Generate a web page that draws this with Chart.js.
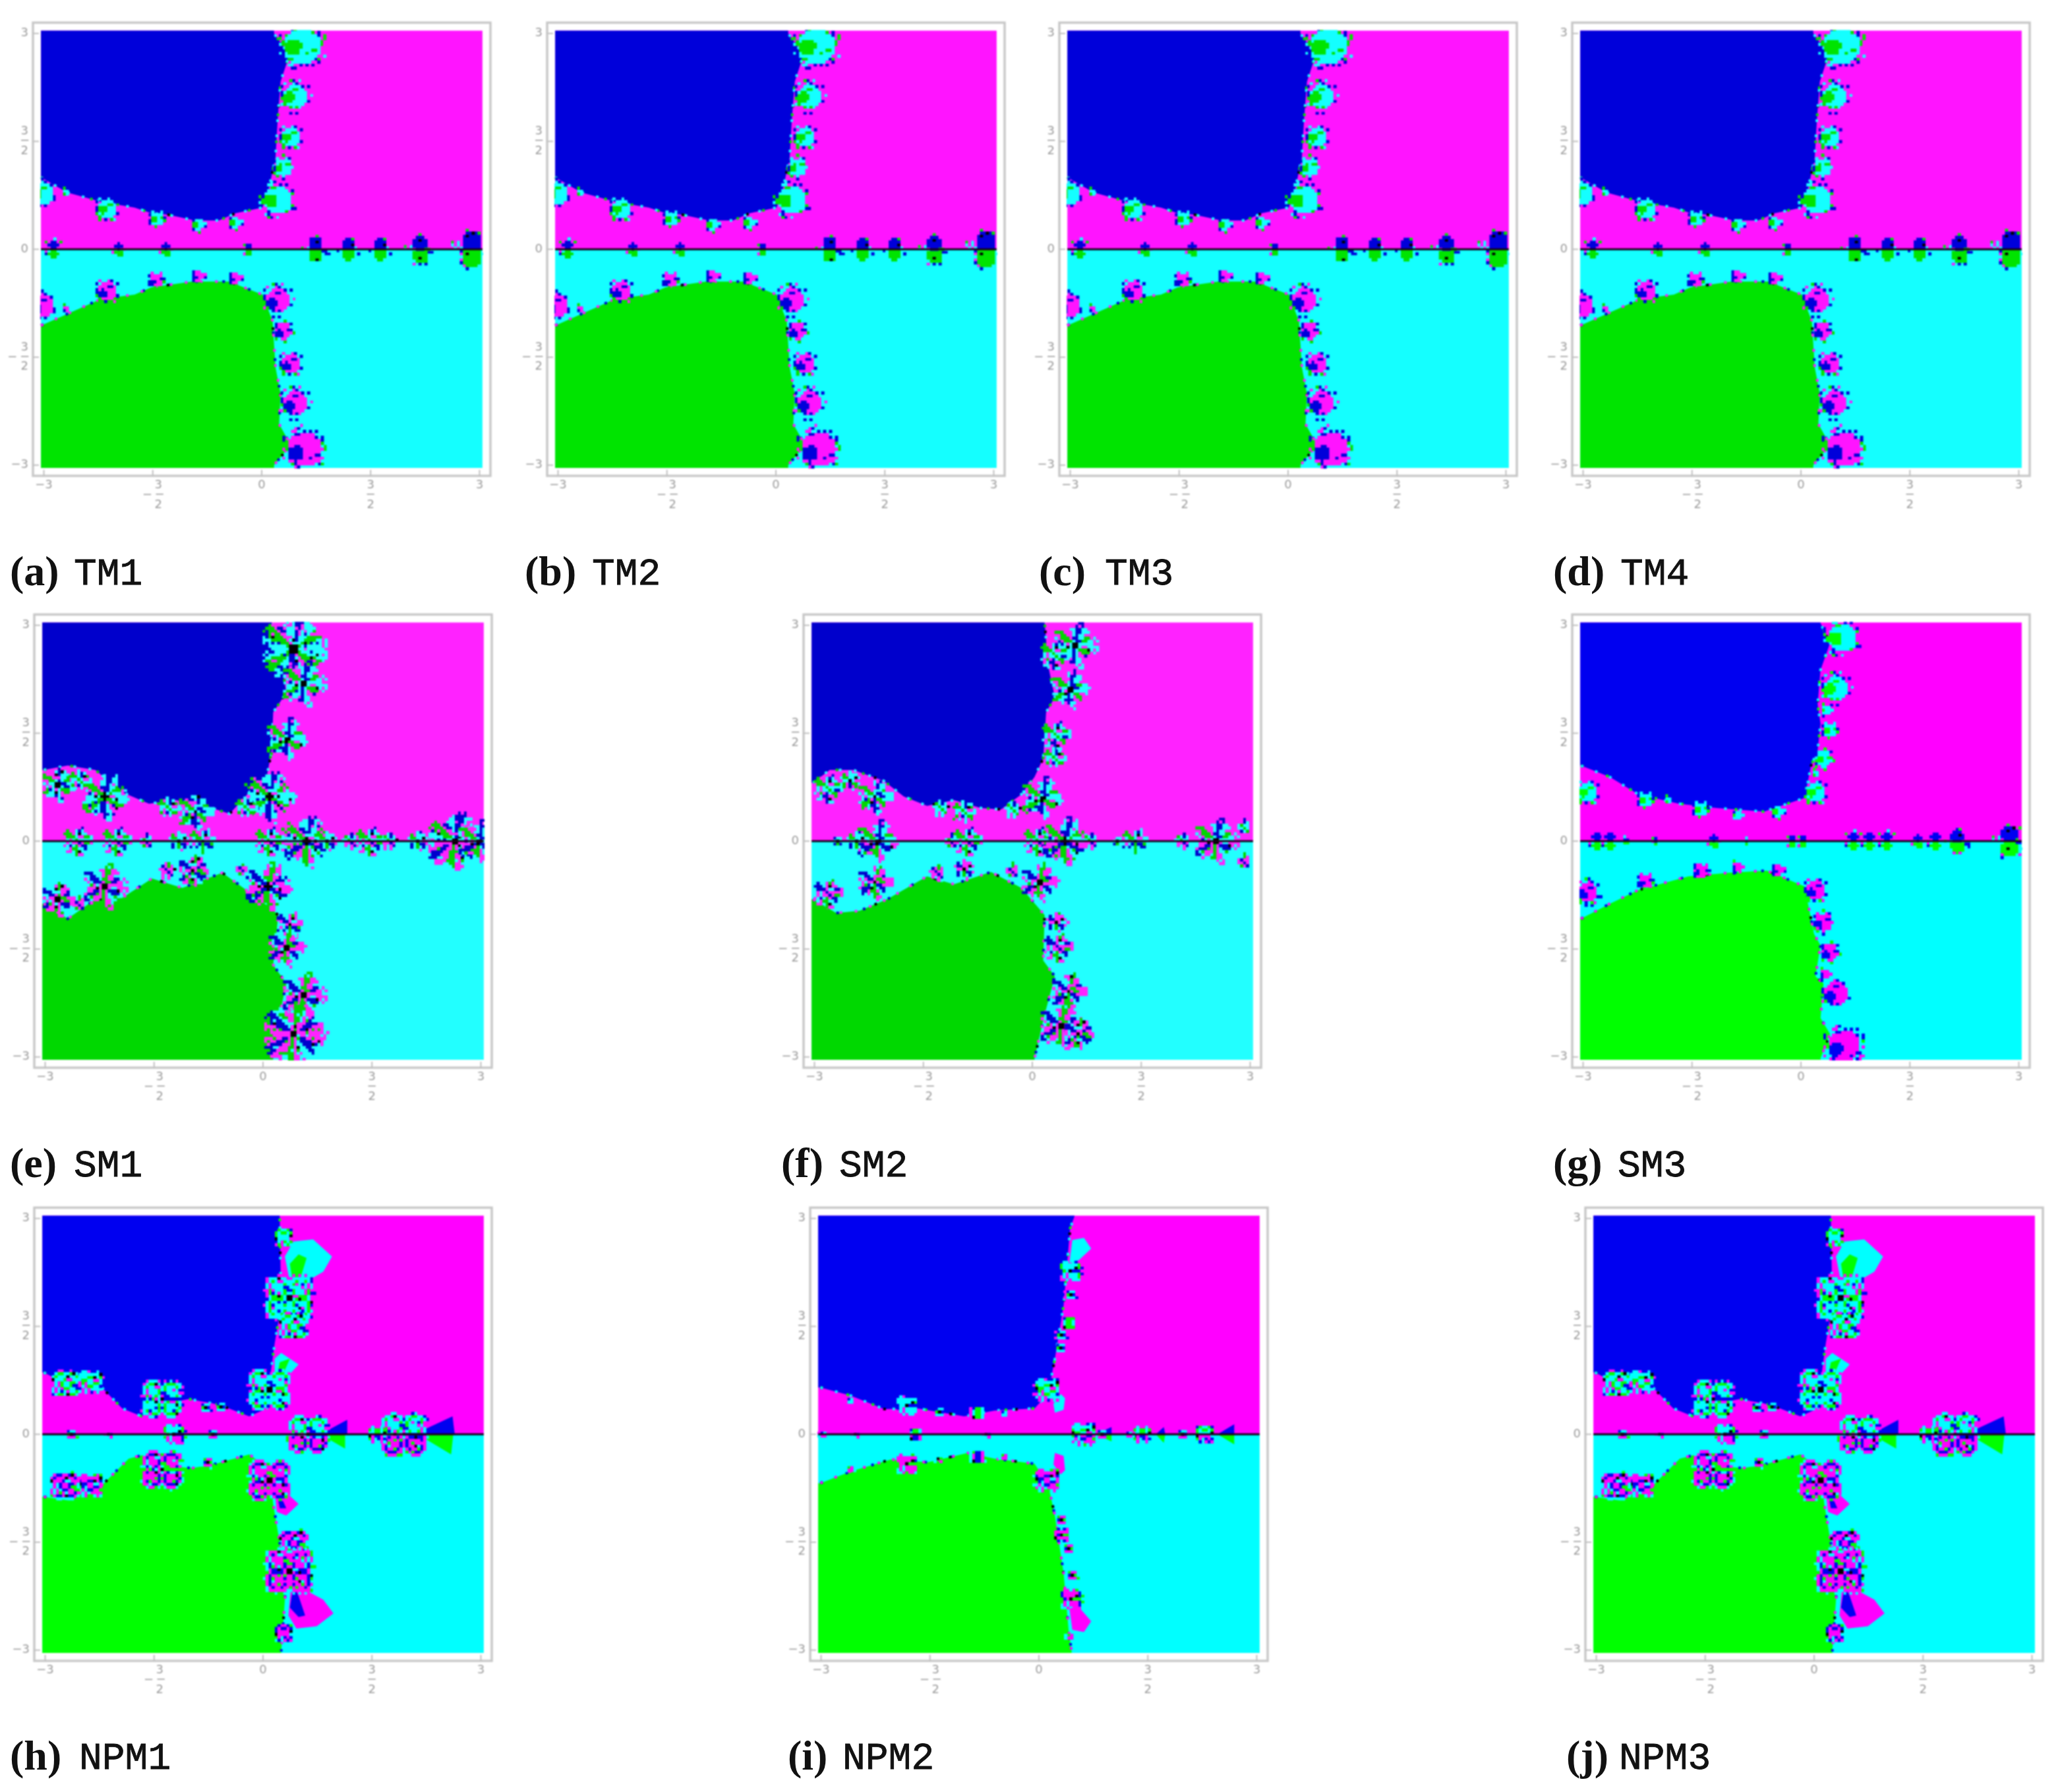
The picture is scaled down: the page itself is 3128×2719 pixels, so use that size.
<!DOCTYPE html>
<html>
<head>
<meta charset="utf-8">
<title>Basins of attraction</title>
<script src="https://cdn.jsdelivr.net/npm/chart.js@4"></script>
<style>
  html, body { margin: 0; padding: 0; background: #fff; }
  #page { position: relative; width: 3128px; height: 2719px; overflow: hidden; }
  canvas { position: absolute; filter: blur(0.8px); }
  .cap { position: absolute; white-space: pre; color: #111; filter: blur(0.6px); line-height: 1; }
  .cap-tag { font: bold 64px "Liberation Serif", serif; }
  .cap-name { font: 58px "Liberation Mono", monospace; -webkit-text-stroke: 0.8px #111; }
</style>
</head>
<body>
<div id="page"></div>
<script>
// Axis ticks, same on every panel
const tickValues = [-3, -1.5, 0, 1.5, 3];
const tickLabels = ['\u22123', ['   3', '\u2212 \u2500', '   2'], '0', ['3', '\u2500', '2'], '3'];

// Captions
const captionTags = ['(a)', '(b)', '(c)', '(d)', '(e)', '(f)', '(g)', '(h)', '(i)', '(j)'];
const captionNames = ['TM1', 'TM2', 'TM3', 'TM4', 'SM1', 'SM2', 'SM3', 'NPM1', 'NPM2', 'NPM3'];

// Basin boundaries, [x, y]
const tmBlue = [[-3.04,1.0],[-2.68,.79],[-2.21,.66],[-1.75,.58],[-1.52,.5],[-1.29,.48],[-.92,.4],[-.59,.4],[-.36,.5],[.01,.58],[.1,.85],[.19,1.27],[.22,1.8],[.26,2.33],[.38,2.7],[.17,3.0]];
const tmGreen = [[-3.04,-1.06],[-2.68,-.9],[-2.21,-.69],[-1.75,-.63],[-1.52,-.53],[-.96,-.45],[-.45,-.45],[.01,-.63],[.15,-1.0],[.19,-1.64],[.26,-2.01],[.24,-2.43],[.4,-2.72],[.17,-3.0]];
const sm1Blue = [[-3.02,.99],[-2.69,1.05],[-2.31,.99],[-1.94,.68],[-1.57,.52],[-1.2,.57],[-.83,.5],[-.46,.38],[-.19,.68],[.05,.89],[.12,1.26],[.14,1.79],[.32,2.06],[.23,2.66],[.12,3.02]];
const sm1Green = [[-3.02,-.87],[-2.69,-1.08],[-2.31,-.81],[-1.94,-.79],[-1.53,-.52],[-1.11,-.65],[-.56,-.44],[-.19,-.71],[.09,-.92],[.21,-1.03],[.14,-1.72],[.32,-1.98],[.23,-2.41],[.14,-3.02]];
const sm2Blue = [[-3.02,.81],[-2.79,.99],[-2.47,.99],[-2.05,.84],[-1.77,.62],[-1.45,.49],[-1.08,.57],[-.71,.46],[-.43,.44],[-.15,.65],[.03,.89],[.15,1.15],[.19,1.79],[.31,2.0],[.22,2.43],[.17,3.03]];
const sm2Green = [[-3.02,-.81],[-2.7,-1],[-2.38,-.97],[-2,-.81],[-1.45,-.49],[-1.08,-.6],[-.57,-.43],[-.15,-.65],[.17,-1.03],[.15,-1.66],[.31,-1.88],[.17,-2.41],[.03,-3.02]];
const sm3Blue = [[-3.03,1.05],[-2.63,.89],[-2.24,.65],[-1.68,.52],[-1.16,.46],[-.51,.41],[.05,.6],[.14,1.05],[.23,1.26],[.27,1.63],[.23,1.9],[.27,2.38],[.4,2.75],[.27,3.03]];
const sm3Green = [[-3.03,-1.08],[-2.63,-.87],[-2.24,-.68],[-1.55,-.49],[-.99,-.44],[-.47,-.41],[.05,-.63],[.18,-1.29],[.27,-1.45],[.2,-1.88],[.31,-1.98],[.27,-2.46],[.4,-2.68],[.27,-3.02]];
const npm1Blue = [[-3.02,.86],[-2.87,.78],[-2.22,.65],[-1.94,.36],[-1.67,.25],[-1.44,.41],[-1.02,.49],[-.6,.41],[-.19,.25],[.05,.36],[.09,.73],[.16,1.26],[.25,1.79],[.23,3.03]];
const npm1Green = [[-3.02,-.87],[-2.69,-.92],[-2.22,-.71],[-1.85,-.34],[-1.62,-.28],[-1.39,-.44],[-.97,-.47],[-.65,-.41],[-.19,-.28],[.09,-.49],[.14,-.97],[.23,-1.51],[.32,-2.04],[.25,-3.02]];
const npm2Blue = [[-3.01,.65],[-2.6,.54],[-2.13,.35],[-1.67,.36],[-1.03,.25],[-.61,.33],[-.06,.36],[.13,.57],[.22,1.05],[.34,1.79],[.43,2.86],[.49,3.03]];
const npm2Green = [[-3.01,-.68],[-2.6,-.52],[-2.04,-.35],[-1.53,-.39],[-.98,-.26],[-.61,-.34],[-.06,-.41],[.13,-.71],[.22,-1.13],[.34,-1.93],[.41,-2.73],[.45,-3.02]];

// Blobs on the boundary, [x, y, radius]
const tmUp = [[.56,2.83,.25],[.46,2.12,.17],[.4,1.56,.13],[.3,1.14,.12],[.22,.69,.2],[-3.02,.77,.15],[-2.13,.56,.13],[-1.44,.42,.1],[-.88,.34,.085],[-.37,.37,.085],[-2.7,.79,.05]];
const tmLow = [[.59,-2.78,.24],[.46,-2.14,.17],[.4,-1.59,.13],[.3,-1.14,.11],[.22,-.71,.17],[-3.02,-.79,.15],[-2.13,-.58,.13],[-1.45,-.43,.1],[-.88,-.37,.08],[-.37,-.4,.08],[-2.7,-.83,.05]];
const tmAxis = [[-2.87,0,.09],[-1.97,0,.07],[-1.32,0,.07],[-.18,0,.06],[.74,0,.13],[1.19,0,.11],[1.63,0,.11],[2.18,0,.14],[2.89,0,.18]];
const sm3Up = [[.57,2.83,.2],[.48,2.12,.17],[.35,1.82,.07],[.4,1.54,.1],[.31,1.14,.11],[.2,.68,.13],[.2,.94,.05],[-2.94,.68,.13],[-2.14,.57,.1],[-1.38,.44,.1],[-.88,.36,.06],[-.32,.41,.08],[-1.83,.57,.05]];
const sm3Low = [[-2.94,-.71,.14],[-2.14,-.56,.1],[-1.38,-.41,.09],[-.88,-.36,.07],[-.32,-.4,.08],[.2,-.68,.13],[.31,-1.13,.12],[.4,-1.55,.11],[.33,-1.85,.07],[.48,-2.12,.16],[.59,-2.84,.22]];
const sm3Axis = [[-2.81,0,.08],[-2.63,0,.08],[-2.41,0,.04],[-2,0,.05],[-1.2,0,.07],[-.75,0,.03],[-.12,0,.06],[.03,0,.06],[.72,0,.09],[.94,0,.08],[1.18,0,.09],[1.61,0,.07],[1.85,0,.08],[2.15,0,.12],[2.87,0,.15]];

// Flowers, [x, y, radius]
const sm1Up = [[.42,2.67,.46],[.56,2.19,.3],[.32,1.42,.28],[.09,.62,.35],[-2.18,.62,.32],[-2.83,.78,.23],[-2.52,.84,.16],[-.93,.41,.25],[-1.3,.46,.16],[-.23,.46,.16]];
const sm1Low = [[-2.18,-.63,.3],[-2.83,-.81,.23],[-2.55,-.87,.1],[-.97,-.41,.22],[-1.32,-.41,.13],[.07,-.63,.32],[-.3,-.39,.09],[.32,-1.48,.26],[.37,-1.16,.18],[.56,-2.14,.3],[.42,-2.68,.44]];
const sm1Axis = [[-2.01,0,.2],[-2.55,0,.2],[-.83,0,.18],[-1.16,0,.14],[.6,0,.35],[.88,0,.14],[.09,0,.2],[1.48,0,.2],[1.74,0,.13],[1.2,0,.12],[2.64,0,.4],[2.13,0,.15],[2.96,0,.28],[-1.62,0,.1]];
const sm2Up = [[.59,2.72,.3],[.31,2.59,.2],[.52,2.11,.26],[.33,1.47,.2],[.31,1.15,.16],[.13,.6,.28],[-.27,.44,.13],[-2.17,.62,.24],[-2.81,.73,.2],[-2.51,.84,.14],[-.94,.41,.17],[-1.26,.46,.13],[2.9,.2,.1]];
const sm2Low = [[-2.17,-.57,.24],[-2.81,-.73,.2],[-1.31,-.44,.12],[-.94,-.39,.14],[-.29,-.41,.1],[.1,-.57,.26],[.33,-1.13,.15],[.36,-1.48,.2],[.5,-2.09,.25],[.4,-2.57,.3],[.63,-2.68,.22],[2.9,-.28,.1]];
const sm2Axis = [[-2.14,0,.28],[-2.42,0,.15],[-2.68,0,.08],[-.89,0,.2],[-1.13,0,.1],[.08,0,.2],[.45,0,.32],[.8,0,.12],[1.42,0,.18],[1.17,0,.07],[2.53,0,.3],[2.07,0,.12]];
const npm1Up = [[.36,1.9,.33],[.28,2.74,.13],[.42,1.5,.19],[.09,.62,.3],[-1.39,.49,.28],[-2.38,.73,.17],[-2.71,.7,.19],[-.79,.37,.08],[-.58,.38,.07]];
const npm1Low = [[-1.39,-.49,.28],[-2.38,-.71,.17],[-2.73,-.71,.19],[-.76,-.39,.08],[.09,-.64,.3],[.42,-1.51,.19],[.36,-1.9,.33],[.28,-2.76,.13]];
const npm1Axis = [[.62,0,.28],[1.94,0,.32],[1.57,0,.12],[-1.23,0,.15],[-2.64,0,.08],[-.69,0,.07],[-2.13,0,.05]];
const npm2Up = [[.43,2.27,.15],[.44,1.94,.08],[.41,1.55,.09],[.31,1.38,.08],[.3,1.2,.07],[.11,.62,.17],[-1.82,.4,.14],[-2.6,.47,.06],[-.84,.3,.1],[-.48,.29,.06],[-1.37,.31,.07]];
const npm2Low = [[-1.82,-.41,.14],[-.84,-.31,.1],[-2.6,-.48,.06],[-.48,-.31,.06],[-1.39,-.34,.05],[.11,-.64,.17],[.31,-1.4,.11],[.31,-1.19,.07],[.41,-1.59,.07],[.46,-1.96,.08],[.44,-2.29,.15],[.43,-2.81,.06]];
const npm2Axis = [[.61,0,.17],[-1.7,0,.1],[-2.53,0,.05],[-.73,0,.05],[-2.97,0,.06],[1.42,0,.12],[1.24,0,.06],[2.28,0,.13],[.87,0,.07],[1.98,0,.07]];

// Teardrop petals, outer shapes then inner ones, [x, y]
const npm1TearCyan = [[[.39,2.02],[.3,2.47],[.42,2.68],[.69,2.71],[.95,2.47],[.83,2.26],[.56,2.1]],[[.16,.73],[.16,1.05],[.25,1.13],[.49,.97],[.32,.78]]];
const npm1TearMagenta = [[[.39,-2.06],[.35,-2.52],[.46,-2.7],[.74,-2.67],[.97,-2.49],[.83,-2.3]],[[.16,-.76],[.19,-1.08],[.32,-1.13],[.49,-.97],[.32,-.81]]];
const npm1TearGreen = [[[.42,2.05],[.37,2.37],[.49,2.5],[.6,2.45],[.51,2.15]],[[.19,.78],[.23,1],[.37,1.05],[.28,.84]],[[.79,0],[1.13,-.2],[1.13,0]],[[2.13,0],[2.59,-.28],[2.62,0]]];
const npm1TearBlue = [[[.42,-2.09],[.37,-2.41],[.49,-2.54],[.58,-2.52],[.49,-2.25]],[[.19,-.81],[.23,-1.03],[.32,-1.03],[.25,-.87]],[[.79,0],[1.16,.2],[1.16,0]],[[2.08,0],[2.61,.25],[2.64,0]]];
const npm2TearCyan = [[[.42,2.38],[.46,2.7],[.62,2.73],[.72,2.58],[.55,2.42]],[[.2,.42],[.22,.3],[.34,.34],[.36,.5],[.3,.56]]];
const npm2TearMagenta = [[[.42,-2.42],[.46,-2.72],[.62,-2.75],[.72,-2.6],[.55,-2.4]],[[.2,-.42],[.22,-.26],[.34,-.3],[.36,-.5],[.3,-.56]]];
const npm2TearGreen = [[[.78,0],[1.0,-.1],[1.0,0]],[[1.61,0],[1.72,-.12],[1.74,0]],[[2.46,0],[2.69,-.14],[2.69,0]]];
const npm2TearBlue = [[[.78,0],[1.0,.1],[1.0,0]],[[1.61,0],[1.72,.1],[1.74,0]],[[2.46,0],[2.69,.14],[2.69,0]]];

const plotSpanX = 3.04;
const plotSpanY = 3.04;
const axisSpan = 3.15;

const palettes = {
  tm: { blue: '#0000da', magenta: '#ff14ff', cyan: '#14ffff', green: '#00e400' },
  sm: { blue: '#0000cc', magenta: '#ff22ff', cyan: '#22ffff', green: '#00d800' },
  pure: { blue: '#0000f0', magenta: '#ff00ff', cyan: '#00ffff', green: '#00ff00' },
};

const tmSet = { pal: 'tm', blue: tmBlue, green: tmGreen, up: tmUp, low: tmLow, axis: tmAxis, shape: 'disc' };
const npm1Set = { pal: 'pure', blue: npm1Blue, green: npm1Green, up: npm1Up, low: npm1Low, axis: npm1Axis, shape: 'ring',
  tears: { cyan: npm1TearCyan, magenta: npm1TearMagenta, green: npm1TearGreen, blue: npm1TearBlue } };

// left / top of each frame, in page pixels
const panels = [
  { ...tmSet, left: 50, top: 30 },
  { ...tmSet, left: 830, top: 30 },
  { ...tmSet, left: 1607, top: 30 },
  { ...tmSet, left: 2385, top: 30 },
  { pal: 'sm', blue: sm1Blue, green: sm1Green, up: sm1Up, low: sm1Low, axis: sm1Axis, shape: 'star', left: 52, top: 928 },
  { pal: 'sm', blue: sm2Blue, green: sm2Green, up: sm2Up, low: sm2Low, axis: sm2Axis, shape: 'star', left: 1219, top: 928 },
  { pal: 'pure', blue: sm3Blue, green: sm3Green, up: sm3Up, low: sm3Low, axis: sm3Axis, shape: 'disc', left: 2385, top: 928 },
  { ...npm1Set, left: 52, top: 1828 },
  { pal: 'pure', blue: npm2Blue, green: npm2Green, up: npm2Up, low: npm2Low, axis: npm2Axis, shape: 'ring', left: 1229, top: 1828,
    tears: { cyan: npm2TearCyan, magenta: npm2TearMagenta, green: npm2TearGreen, blue: npm2TearBlue } },
  { ...npm1Set, left: 2405, top: 1828 },
];

// Caption placement, page pixels: tag x, name x, baseline row
const captionLayout = [
  [15, 112, 0], [796, 898, 0], [1576, 1676, 0], [2356, 2458, 0],
  [15, 112, 1], [1185, 1273, 1], [2356, 2454, 1],
  [15, 120, 2], [1195, 1278, 2], [2376, 2456, 2],
];
const captionTops = [830, 1728, 2627];

const FRAME_W = 694;
const FRAME_H = 692;
const PAD_LEFT = 50;
const PAD_TOP = 10;
const PAD_RIGHT = 10;
const PAD_BOTTOM = 90;
const PX_PER_UNIT = 110;
const CELL = 4.5;

/**
 * Colour of one cell of a blob glyph, or null where it is see-through.
 * nx, ny are relative to the blob radius, y up.
 */
function glyphCell(shape, side, nx, ny, i, j, pal) {
  const d = Math.hypot(nx, ny);
  const a = Math.atan2(ny, nx);
  const grain = (i * i * 3 + j * j * 5 + i * j * 7 + i * 11 + j * 2) % 13;
  const rareDark = grain === 0 && (i + 2 * j) % 3 === 0;
  const up = side === 'up' || (side === 'axis' && ny >= 0);

  if (shape === 'disc') {
    if (side === 'axis') {
      const inner = Math.hypot(nx, Math.abs(ny) - 0.42);
      if (inner < 0.52) return rareDark ? '#000' : (up ? pal.blue : pal.green);
      if (d < 1.1 && grain < 3) return [pal.magenta, pal.cyan, up ? pal.green : pal.blue][grain];
      return null;
    }
    const main = up ? pal.cyan : pal.magenta;
    const spot = up ? pal.green : pal.blue;
    if (d < 0.84) {
      if (Math.hypot(nx + 0.42, ny + (up ? 0.05 : 0.2)) < 0.38) return spot;
      return grain === 0 ? spot : main;
    }
    if (d < 1.16 && grain < 4) return [pal.blue, pal.green, rareDark ? '#000' : pal.blue, up ? pal.cyan : pal.magenta][grain];
    return null;
  }

  const mainC = up ? pal.cyan : pal.magenta;
  const altC = up ? pal.green : pal.blue;
  const sideC = up ? pal.blue : pal.green;
  const rimC = up ? pal.magenta : pal.cyan;

  if (shape === 'star') {
    if (d < 0.14) return '#000';
    const edge = 0.78 + 0.3 * Math.abs(Math.cos(a * 2.5));
    if (d > edge) return null;
    if (d > edge * 0.82 && grain < 6) return null;
    const sector = Math.floor((a + Math.PI) / (2 * Math.PI) * 16) % 8;
    const spokes = [mainC, altC, mainC, sideC, mainC, rimC, altC, mainC];
    if (rareDark) return '#000';
    if (grain === 1) return rimC;
    if (grain === 2) return sideC;
    return spokes[sector];
  }

  // ring flower: four round lobes with banded outlines
  if (d < 0.1) return '#000';
  if (Math.abs(ny) < 0.05 && nx > 0 && d < 0.9) return sideC;
  const lobe = Math.hypot(Math.abs(nx) - 0.48, Math.abs(ny) - 0.4);
  if (lobe < 0.62) {
    const t = lobe / 0.62;
    if (t >= 0.84) {
      if (grain < 4) return null;
      return grain < 7 ? sideC : rimC;
    }
    if (rareDark) return '#000';
    if (grain === 1) return rimC;
    if (grain === 2) return sideC;
    if (t < 0.48) return mainC;
    if (t < 0.64) return altC;
    return mainC;
  }
  return null;
}

const glyphCache = {};

/**
 * Build (or reuse) the little canvas used as a point style for a blob
 */
function blobGlyph(palName, shape, side, r) {
  const key = [palName, shape, side, r].join('|');
  if (glyphCache[key]) return glyphCache[key];
  const pal = palettes[palName];
  let grow = 1;
  if (shape === 'disc') grow = side === 'axis' ? 1.5 : 1.2;
  const rPx = r * PX_PER_UNIT * grow;
  const count = Math.ceil(rPx * 2.4 / CELL);
  const size = Math.ceil(count * CELL);
  const glyph = document.createElement('canvas');
  glyph.width = size;
  glyph.height = size;
  const g = glyph.getContext('2d');
  for (let j = 0; j < count; j++) {
    for (let i = 0; i < count; i++) {
      const nx = (i * CELL + CELL / 2 - size / 2) / rPx;
      const ny = (size / 2 - j * CELL - CELL / 2) / rPx;
      const c = glyphCell(shape, side, nx, ny, i, j, pal);
      if (c) {
        const px = Math.round(i * CELL);
        const py = Math.round(j * CELL);
        g.fillStyle = c;
        g.fillRect(px, py, Math.round((i + 1) * CELL) - px, Math.round((j + 1) * CELL) - py);
      }
    }
  }
  glyphCache[key] = glyph;
  return glyph;
}

const xy = pts => pts.map(p => ({ x: p[0], y: p[1] }));

function shapeDataset(points, color) {
  return {
    data: xy(points),
    showLine: true,
    fill: 'shape',
    backgroundColor: color,
    borderWidth: 0,
    pointRadius: 0,
    tension: 0,
  };
}

function blobDataset(list, panel, side) {
  return {
    data: list.map(b => ({ x: b[0], y: b[1], r: b[2] })),
    showLine: false,
    clip: -11,
    pointRadius: 8,
    pointStyle: ctx => blobGlyph(panel.pal, panel.shape, side, ctx.raw.r),
  };
}

// Dashed overdraw that roughens a boundary with stray cells
function fuzzDataset(points, color, gap) {
  return {
    data: xy(points),
    showLine: true,
    borderColor: color,
    borderWidth: 4,
    borderDash: [4, gap],
    pointRadius: 0,
    clip: -11,
  };
}

function buildDatasets(panel) {
  const pal = palettes[panel.pal];
  const sets = [];
  // zero line sits on top of everything
  sets.push({
    data: [{ x: -plotSpanX, y: 0 }, { x: plotSpanX, y: 0 }],
    showLine: true,
    borderColor: '#1a001a',
    borderWidth: 3,
    pointRadius: 0,
  });
  sets.push(blobDataset(panel.axis, panel, 'axis'));
  sets.push(blobDataset(panel.up, panel, 'up'));
  sets.push(blobDataset(panel.low, panel, 'low'));
  sets.push(fuzzDataset(panel.blue, pal.cyan, 19));
  sets.push(fuzzDataset(panel.blue, '#000', 97));
  sets.push(fuzzDataset(panel.blue, pal.green, 37));
  sets.push(fuzzDataset(panel.green, pal.magenta, 19));
  sets.push(fuzzDataset(panel.green, '#000', 97));
  sets.push(fuzzDataset(panel.green, pal.blue, 37));
  if (panel.tears) {
    panel.tears.green.forEach(t => sets.push(shapeDataset(t.concat([t[0]]), pal.green)));
    panel.tears.blue.forEach(t => sets.push(shapeDataset(t.concat([t[0]]), pal.blue)));
    panel.tears.cyan.forEach(t => sets.push(shapeDataset(t.concat([t[0]]), pal.cyan)));
    panel.tears.magenta.forEach(t => sets.push(shapeDataset(t.concat([t[0]]), pal.magenta)));
  }
  const lastBlue = panel.blue[panel.blue.length - 1];
  const lastGreen = panel.green[panel.green.length - 1];
  sets.push(shapeDataset([[-plotSpanX, plotSpanY], [-plotSpanX, panel.blue[0][1]], ...panel.blue, [lastBlue[0], plotSpanY], [-plotSpanX, plotSpanY]], pal.blue));
  sets.push(shapeDataset([[-plotSpanX, -plotSpanY], [-plotSpanX, panel.green[0][1]], ...panel.green, [lastGreen[0], -plotSpanY], [-plotSpanX, -plotSpanY]], pal.green));
  sets.push(shapeDataset([[-plotSpanX, 0], [plotSpanX, 0], [plotSpanX, plotSpanY], [-plotSpanX, plotSpanY], [-plotSpanX, 0]], pal.magenta));
  sets.push(shapeDataset([[-plotSpanX, 0], [plotSpanX, 0], [plotSpanX, -plotSpanY], [-plotSpanX, -plotSpanY], [-plotSpanX, 0]], pal.cyan));
  return sets;
}

// Frame and the short inward tick marks
const framePlugin = {
  id: 'frame',
  afterDraw(chart) {
    const { ctx, chartArea: area, scales } = chart;
    ctx.save();
    ctx.strokeStyle = '#c8c8c8';
    ctx.lineWidth = 3.5;
    ctx.strokeRect(area.left, area.top, area.right - area.left, area.bottom - area.top);
    ctx.strokeStyle = '#c0c0c0';
    ctx.lineWidth = 2;
    ctx.beginPath();
    tickValues.forEach(v => {
      const px = scales.x.getPixelForValue(v);
      ctx.moveTo(px, area.bottom);
      ctx.lineTo(px, area.bottom - 9);
      const py = scales.y.getPixelForValue(v);
      ctx.moveTo(area.left, py);
      ctx.lineTo(area.left + 9, py);
    });
    ctx.stroke();
    ctx.restore();
  },
};

function axisOptions(fitSize, isX) {
  return {
    type: 'linear',
    min: -axisSpan,
    max: axisSpan,
    border: { display: false },
    grid: { display: false, drawTicks: false },
    afterBuildTicks: scale => {
      scale.ticks = tickValues.map(v => ({ value: v }));
    },
    afterFit: scale => {
      if (isX) scale.height = fitSize;
      else scale.width = fitSize;
    },
    ticks: {
      autoSkip: false,
      maxRotation: 0,
      padding: 7,
      color: '#9a9a9a',
      font: { family: 'DejaVu Sans', size: 18, lineHeight: 0.82 },
      callback: value => tickLabels[tickValues.indexOf(value)],
    },
  };
}

function drawPanel(panel, index) {
  const page = document.getElementById('page');
  const canvas = document.createElement('canvas');
  canvas.width = FRAME_W + PAD_LEFT + PAD_RIGHT;
  canvas.height = FRAME_H + PAD_TOP + PAD_BOTTOM;
  canvas.style.left = panel.left - PAD_LEFT + 'px';
  canvas.style.top = panel.top - PAD_TOP + 'px';
  canvas.style.width = canvas.width + 'px';
  canvas.style.height = canvas.height + 'px';
  page.appendChild(canvas);

  new Chart(canvas.getContext('2d'), {
    type: 'scatter',
    data: { datasets: buildDatasets(panel) },
    options: {
      responsive: false,
      animation: false,
      devicePixelRatio: 1,
      events: [],
      layout: { padding: { top: PAD_TOP, right: PAD_RIGHT, left: 0, bottom: 0 } },
      plugins: {
        legend: { display: false },
        tooltip: { enabled: false },
        title: { display: false },
      },
      scales: {
        x: axisOptions(PAD_BOTTOM, true),
        y: axisOptions(PAD_LEFT, false),
      },
    },
    plugins: [framePlugin],
  });

  const layout = captionLayout[index];
  const tag = document.createElement('div');
  tag.className = 'cap cap-tag';
  tag.textContent = captionTags[index];
  tag.style.left = layout[0] + 'px';
  tag.style.top = captionTops[layout[2]] + 'px';
  page.appendChild(tag);

  const name = document.createElement('div');
  name.className = 'cap cap-name';
  name.textContent = captionNames[index];
  name.style.left = layout[1] + 'px';
  name.style.top = captionTops[layout[2]] + 9 + 'px';
  page.appendChild(name);
}

panels.forEach(drawPanel);
</script>
</body>
</html>
